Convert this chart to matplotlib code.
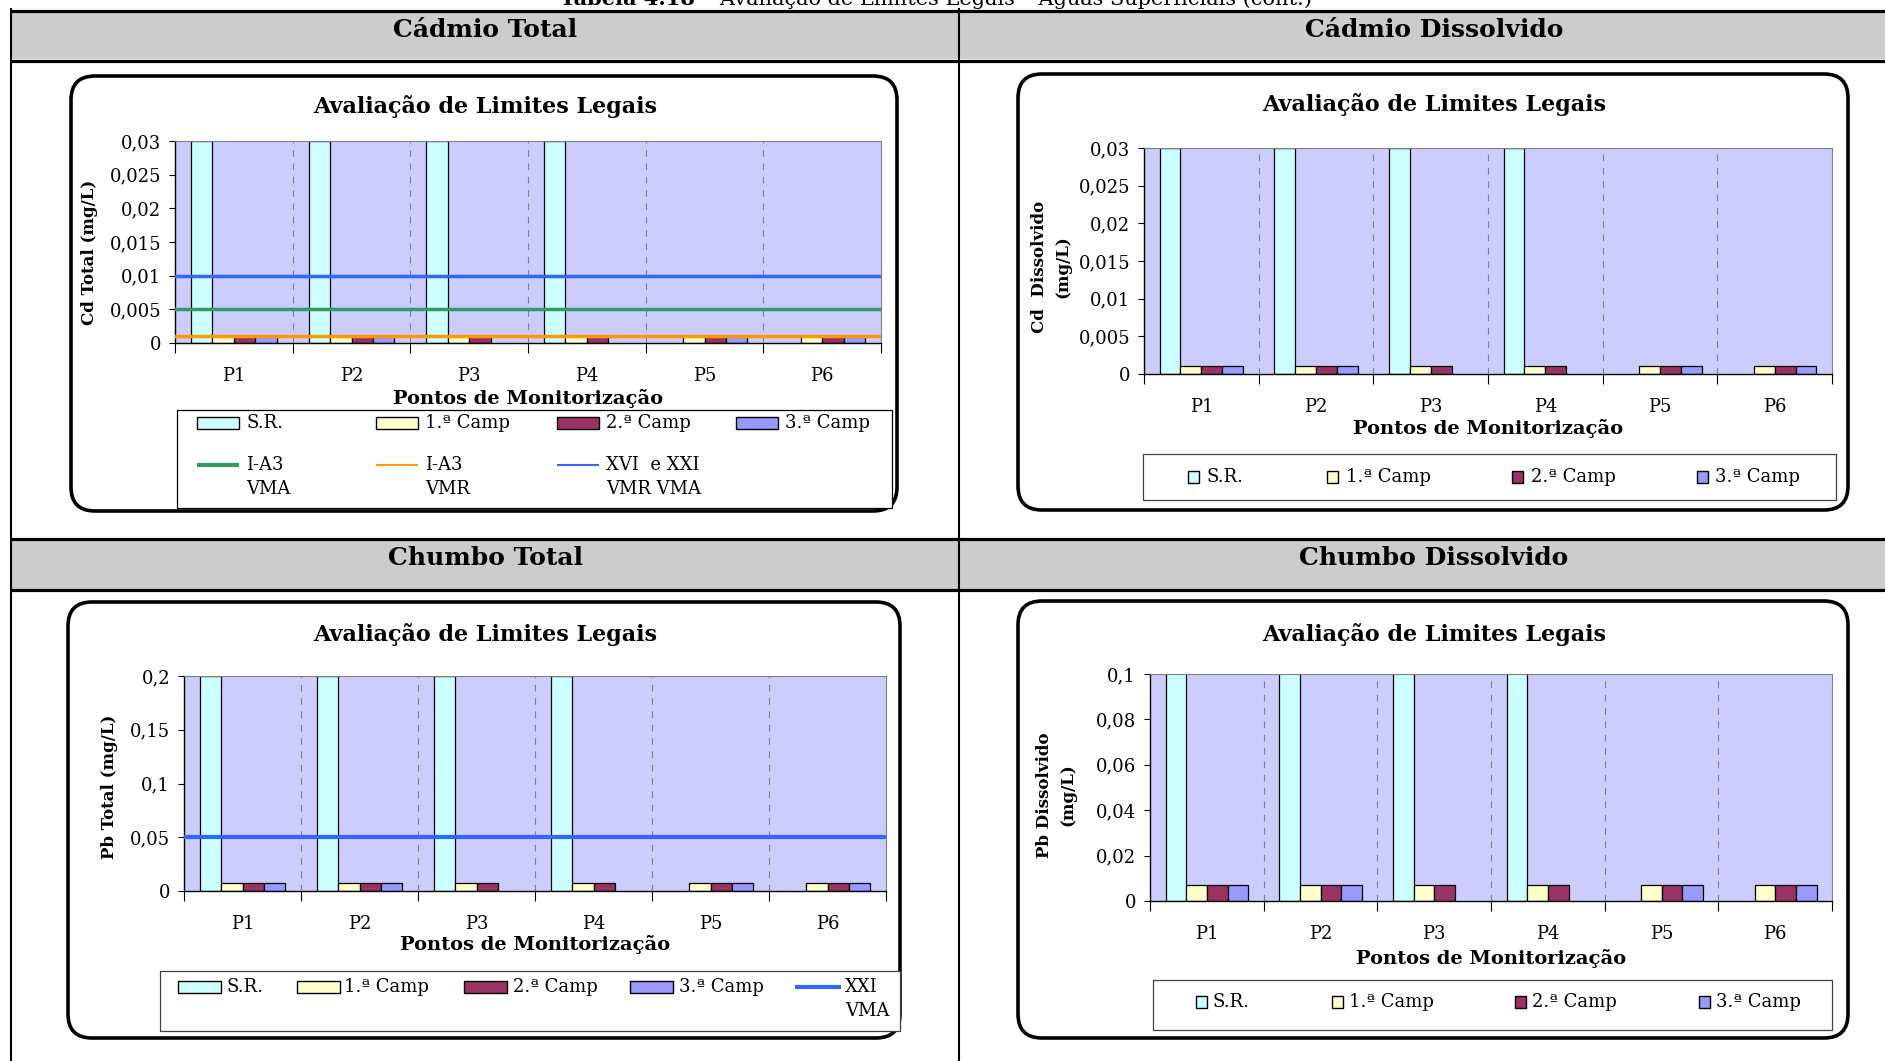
import numpy as np
import matplotlib.pyplot as plt
from matplotlib.patches import Rectangle, FancyBboxPatch
from matplotlib.ticker import FuncFormatter

plt.rcParams['font.family'] = ['DejaVu Serif']

W, H = 1885, 1061

# dados
categories = ['P1', 'P2', 'P3', 'P4', 'P5', 'P6']
series = ['S.R.', '1.ª Camp', '2.ª Camp', '3.ª Camp']
colors = ['#CCFFFF', '#FFFFCC', '#993366', '#9999FF']
nan = np.nan

cd_tot_sr = [0.03, 0.03, 0.03, 0.03, nan, nan]
cd_tot_c1 = [0.001, 0.001, 0.001, 0.001, 0.001, 0.001]
cd_tot_c2 = [0.001, 0.001, 0.001, 0.001, 0.001, 0.001]
cd_tot_c3 = [0.001, 0.001, nan, nan, 0.001, 0.001]

cd_dis_sr = [0.03, 0.03, 0.03, 0.03, nan, nan]
cd_dis_c1 = [0.001, 0.001, 0.001, 0.001, 0.001, 0.001]
cd_dis_c2 = [0.001, 0.001, 0.001, 0.001, 0.001, 0.001]
cd_dis_c3 = [0.001, 0.001, nan, nan, 0.001, 0.001]

pb_tot_sr = [0.2, 0.2, 0.2, 0.2, nan, nan]
pb_tot_c1 = [0.007, 0.007, 0.007, 0.007, 0.007, 0.007]
pb_tot_c2 = [0.007, 0.007, 0.007, 0.007, 0.007, 0.007]
pb_tot_c3 = [0.007, 0.007, nan, nan, 0.007, 0.007]

pb_dis_sr = [0.2, 0.2, 0.2, 0.2, nan, nan]
pb_dis_c1 = [0.007, 0.007, 0.007, 0.007, 0.007, 0.007]
pb_dis_c2 = [0.007, 0.007, 0.007, 0.007, 0.007, 0.007]
pb_dis_c3 = [0.007, 0.007, nan, nan, 0.007, 0.007]

# limites legais
cd_ia3_vma = 0.005
cd_ia3_vmr = 0.001
cd_xvi_xxi = 0.01
pb_xxi_vma = 0.05

fig = plt.figure(figsize=(W / 100, H / 100), dpi=100)
bg = fig.add_axes([0, 0, 1, 1], zorder=0)
bg.set_xlim(0, W)
bg.set_ylim(H, 0)
bg.axis('off')

# tabela
bg.add_patch(Rectangle((11, 12), W, 47, fc='#CCCCCC', ec='none'))
bg.add_patch(Rectangle((11, 540), W, 49, fc='#CCCCCC', ec='none'))
for y in [10.5, 60.5, 538.5, 590]:
    bg.plot([10, W], [y, y], color='black', lw=2.3, solid_capstyle='butt')
bg.plot([11, 11], [9, H], color='black', lw=1.5)
bg.plot([959, 959], [9, H], color='black', lw=1.5)

# titulo da tabela (cortado no topo, como no original)
bg.text(695, 5, 'Tabela 4.18', ha='right', va='baseline', fontsize=15, fontweight='bold')
bg.text(703, 5, '– Avaliação de Limites Legais – Águas Superficiais (cont.)',
        ha='left', va='baseline', fontsize=15)

for x, y, t in [(485, 30, 'Cádmio Total'), (1434, 30, 'Cádmio Dissolvido'),
                (485, 558, 'Chumbo Total'), (1434, 558, 'Chumbo Dissolvido')]:
    bg.text(x, y, t, ha='center', va='center', fontsize=18, fontweight='bold')

# molduras arredondadas
for x0, y0, x1, y1 in [(71, 76, 897, 511), (1018, 74, 1848, 510),
                       (68, 602, 900, 1038), (1018, 601, 1848, 1038)]:
    bg.add_patch(FancyBboxPatch((x0, y0), x1 - x0, y1 - y0,
                                boxstyle='round,pad=0,rounding_size=24',
                                fc='white', ec='black', lw=2.6))


def fmt(v, pos):
    return f'{v:g}'.replace('.', ',')


def chart(box, data, ymax, ystep, title_xy, ylab, ylab_xy, xlab_y, lines=()):
    x0, y0, x1, y1 = box
    ax = fig.add_axes([x0 / W, 1 - y1 / H, (x1 - x0) / W, (y1 - y0) / H], zorder=1)
    ax.set_facecolor('#CCCCFF')
    x = np.arange(len(categories))
    w = 1 / 5.5
    for i, vals in enumerate(data):
        ax.bar(x + (i - 1.5) * w, vals, w, color=colors[i], edgecolor='black', lw=0.9, zorder=2)
    for val, col, lw in lines:
        ax.axhline(val, color=col, lw=lw, zorder=3)
    for b in np.arange(0.5, 5.0, 1):
        ax.axvline(b, color='#808080', lw=0.8, ls=(0, (6, 6)), zorder=1)
    ax.set_xlim(-0.5, 5.5)
    ax.set_ylim(0, ymax)
    ax.set_yticks(np.arange(0, ymax + ystep / 2, ystep))
    ax.yaxis.set_major_formatter(FuncFormatter(fmt))
    ax.tick_params(axis='y', direction='out', length=4, width=0.8, pad=6, labelsize=13)
    ax.set_xticks(np.arange(-0.5, 6, 1))
    ax.set_xticklabels([])
    ax.set_xticks(x, minor=True)
    ax.set_xticklabels(categories, minor=True)
    ax.tick_params(axis='x', which='major', direction='out', length=7, width=0.8)
    ax.tick_params(axis='x', which='minor', length=0, pad=17, labelsize=13)
    for s in ['top', 'right']:
        ax.spines[s].set_color('#808080')
    for s in ['left', 'bottom']:
        ax.spines[s].set_color('black')
        ax.spines[s].set_linewidth(1.0)
    bg.text(title_xy[0], title_xy[1], 'Avaliação de Limites Legais', ha='center', va='center',
            fontsize=16, fontweight='bold')
    bg.text(ylab_xy[0], ylab_xy[1], ylab, rotation=90, ha='center', va='center',
            fontsize=12, fontweight='bold', linespacing=1.5, multialignment='center')
    bg.text((x0 + x1) / 2, xlab_y, 'Pontos de Monitorização', ha='center', va='center',
            fontsize=14, fontweight='bold')
    return ax


chart((175, 141, 881, 343), [cd_tot_sr, cd_tot_c1, cd_tot_c2, cd_tot_c3], 0.03, 0.005,
      (485, 106), 'Cd Total (mg/L)', (89, 252), 398,
      lines=[(cd_xvi_xxi, '#3366FF', 2.5), (cd_ia3_vma, '#339966', 2.5),
             (cd_ia3_vmr, '#FF9900', 2.5)])
chart((1144, 148, 1832, 374), [cd_dis_sr, cd_dis_c1, cd_dis_c2, cd_dis_c3], 0.03, 0.005,
      (1434, 105), 'Cd  Dissolvido\n(mg/L)', (1051, 267), 429)
chart((184, 676, 886, 891), [pb_tot_sr, pb_tot_c1, pb_tot_c2, pb_tot_c3], 0.2, 0.05,
      (485, 635), 'Pb Total (mg/L)', (110, 787), 945,
      lines=[(pb_xxi_vma, '#3366FF', 3)])
chart((1150, 674, 1832, 901), [pb_dis_sr, pb_dis_c1, pb_dis_c2, pb_dis_c3], 0.1, 0.02,
      (1434, 634), 'Pb Dissolvido\n(mg/L)', (1056, 795), 958)


# legendas
def leg_box(x0, y0, x1, y1, ec='#404040'):
    bg.add_patch(Rectangle((x0, y0), x1 - x0, y1 - y0, fc='white', ec=ec, lw=0.9))


def leg_patch(x, y, w, h, col):
    bg.add_patch(Rectangle((x, y - h / 2), w, h, fc=col, ec='black', lw=1))


def leg_line(x, y, w, col, lw):
    bg.plot([x, x + w], [y, y], color=col, lw=lw, solid_capstyle='butt')


def leg_text(x, y, t):
    bg.text(x, y, t, ha='left', va='center', fontsize=13)


# Cd total
leg_box(177, 410, 892, 508, ec='black')
for px, tx, col, lab in zip([197, 376, 557, 736], [246, 425, 606, 785], colors, series):
    leg_patch(px, 423, 42, 12, col)
    leg_text(tx, 423, lab)
for px, tx, col, lw, l1, l2 in zip([197, 376, 557], [246, 425, 606],
                                   ['#339966', '#FF9900', '#3366FF'], [3, 1.5, 1.5],
                                   ['I-A3', 'I-A3', 'XVI  e XXI'], ['VMA', 'VMR', 'VMR VMA']):
    leg_line(px, 465, 42, col, lw)
    leg_text(tx, 465, l1)
    leg_text(tx, 489, l2)

# Cd dissolvido
leg_box(1143, 454, 1836, 500)
for px, tx, col, lab in zip([1188, 1327, 1512, 1697], [1206, 1346, 1531, 1715], colors, series):
    leg_patch(px, 477, 11, 12, col)
    leg_text(tx, 477, lab)

# Pb total
leg_box(160, 971, 900, 1031)
for px, tx, col, lab in zip([178, 297, 464, 630], [227, 344, 513, 679], colors, series):
    leg_patch(px, 987, 43, 12, col)
    leg_text(tx, 987, lab)
leg_line(795, 987, 46, '#3366FF', 3)
leg_text(845, 987, 'XXI')
leg_text(845, 1011, 'VMA')

# Pb dissolvido
leg_box(1153, 980, 1832, 1030)
for px, tx, col, lab in zip([1196, 1332, 1515, 1699], [1212, 1349, 1532, 1716], colors, series):
    leg_patch(px, 1002, 11, 12, col)
    leg_text(tx, 1002, lab)

fig.savefig('out.png', dpi=100)
